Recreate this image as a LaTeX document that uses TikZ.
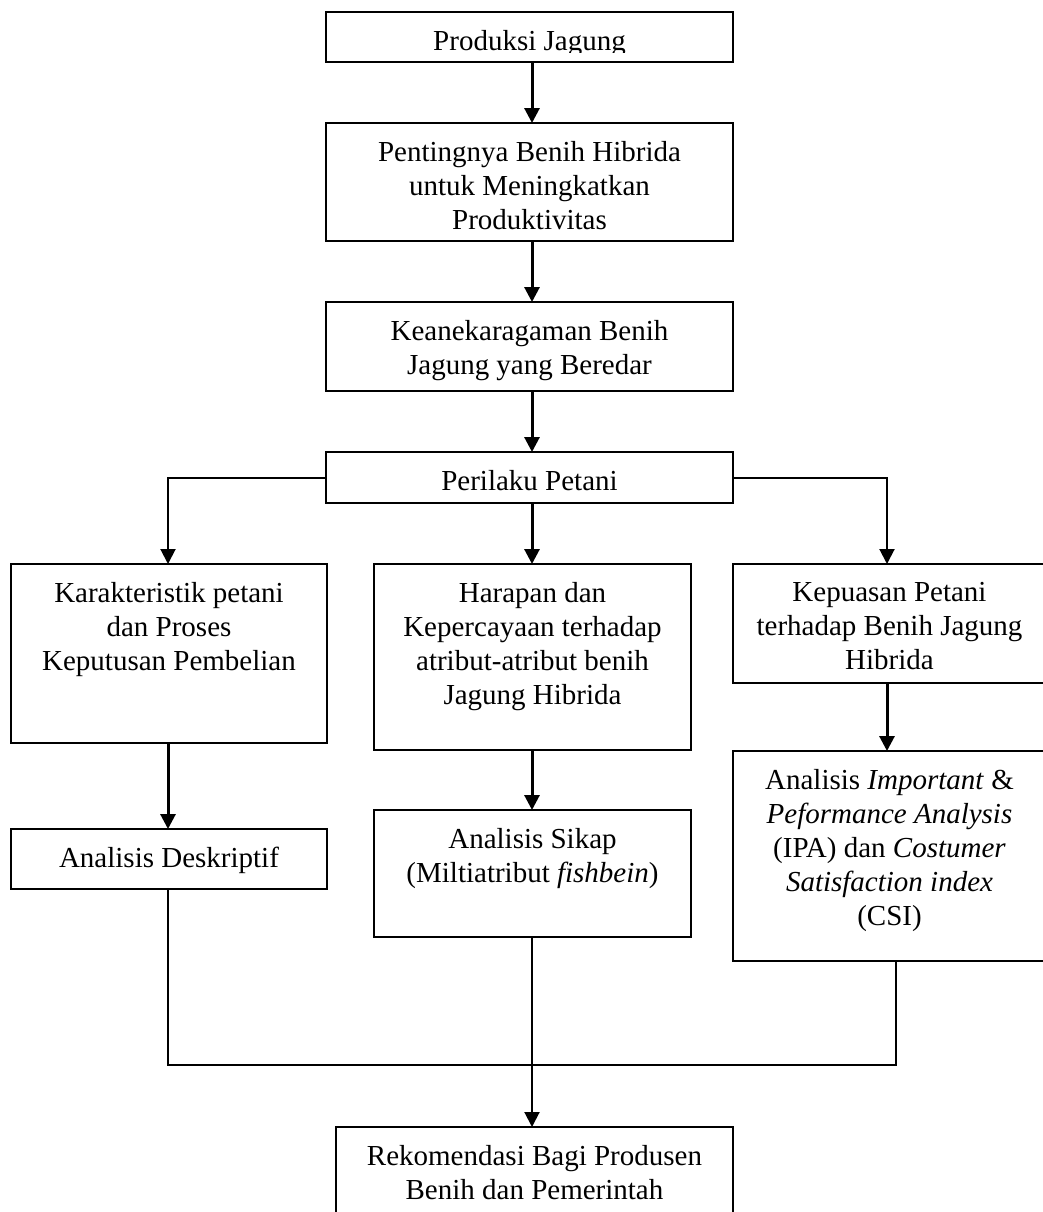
\documentclass[tikz,border=0pt]{standalone}
\usepackage{fontspec}
\setmainfont{Liberation Serif}
\usetikzlibrary{positioning,fit,arrows.meta}

\begin{document}
\begin{tikzpicture}[x=0.5pt, y=-0.5pt,
    box/.style={draw, line width=1pt, inner sep=0pt, outer sep=0pt},
    txt/.style={align=center, inner sep=0pt, font=\fontsize{14.5}{17}\selectfont},
    arr/.style={line width=1.5pt, -{Triangle[length=7.5pt, width=7.5pt]}},
    tipis/.style={line width=0.75pt}]
    \useasboundingbox (0,0) rectangle (1043,1212);

    % Kolom
    \coordinate (kiri) at (168,0);
    \coordinate (tengah) at (532,0);
    \coordinate (kanan) at (887,0);
    \coordinate (kanan2) at (896,0);
    \coordinate (gabung) at (532,1065);

    % Kotak
    \node[box, fit={(326,12) (733,62)}] (prod) {};
    \node[box, fit={(326,123) (733,241)}] (penting) {};
    \node[box, fit={(326,302) (733,391)}] (keaneka) {};
    \node[box, fit={(326,452) (733,503)}] (perilaku) {};
    \node[box, fit={(11,564) (327,743)}] (karak) {};
    \node[box, fit={(374,564) (691,750)}] (harapan) {};
    \node[box, fit={(733,564) (1046,683)}] (kepuasan) {};
    \node[box, fit={(11,829) (327,889)}] (deskr) {};
    \node[box, fit={(374,810) (691,937)}] (sikap) {};
    \node[box, fit={(733,751) (1046,961)}] (ipa) {};
    \node[box, fit={(336,1127) (733,1240)}] (rekom) {};

    % Teks
    \begin{scope}
        \clip (326,12) rectangle (733,52.5);
        \node[txt, below=9pt of prod.north] (prodT) {Produksi Jagung};
    \end{scope}
    \node[txt, below=9pt of penting.north] (pentingT) {Pentingnya Benih Hibrida\\untuk Meningkatkan\\Produktivitas};
    \node[txt, below=9pt of keaneka.north] (keanekaT) {Keanekaragaman Benih\\Jagung yang Beredar};
    \node[txt, below=9pt of perilaku.north] (perilakuT) {Perilaku Petani};
    \node[txt, below=9pt of karak.north] (karakT) {Karakteristik petani\\dan Proses\\Keputusan Pembelian};
    \node[txt, below=9pt of harapan.north] (harapanT) {Harapan dan\\Kepercayaan terhadap\\atribut-atribut benih\\Jagung Hibrida};
    \node[txt, below=9pt of kepuasan.north] (kepuasanT) {Kepuasan Petani\\terhadap Benih Jagung\\Hibrida};
    \node[txt, below=9pt of deskr.north] (deskrT) {Analisis Deskriptif};
    \node[txt, below=9pt of sikap.north] (sikapT) {Analisis Sikap\\(Miltiatribut \textit{fishbein})};
    \node[txt, below=9pt of ipa.north] (ipaT) {Analisis \textit{Important} \&\\\textit{Peformance Analysis}\\(IPA) dan \textit{Costumer}\\\textit{Satisfaction index}\\(CSI)};
    \node[txt, below=9pt of rekom.north] (rekomT) {Rekomendasi Bagi Produsen\\Benih dan Pemerintah};

    % Panah
    \draw[arr] (prod.south -| tengah) -- (penting.north -| tengah);
    \draw[arr] (penting.south -| tengah) -- (keaneka.north -| tengah);
    \draw[arr] (keaneka.south -| tengah) -- (perilaku.north -| tengah);
    \draw[arr] (perilaku.south -| tengah) -- (harapan.north -| tengah);
    \draw[arr, line width=1pt] (perilaku.west) -| (karak.north -| kiri);
    \draw[arr, line width=1pt] (perilaku.east) -| (kepuasan.north -| kanan);
    \draw[arr] (karak.south -| kiri) -- (deskr.north -| kiri);
    \draw[arr] (harapan.south -| tengah) -- (sikap.north -| tengah);
    \draw[arr] (kepuasan.south -| kanan) -- (ipa.north -| kanan);

    % Gabungan
    \draw[tipis] (deskr.south -| kiri) |- (gabung);
    \draw[tipis] (ipa.south -| kanan2) |- (gabung);
    \draw[arr, line width=1pt] (sikap.south -| tengah) -- (rekom.north -| tengah);
\end{tikzpicture}
\end{document}
